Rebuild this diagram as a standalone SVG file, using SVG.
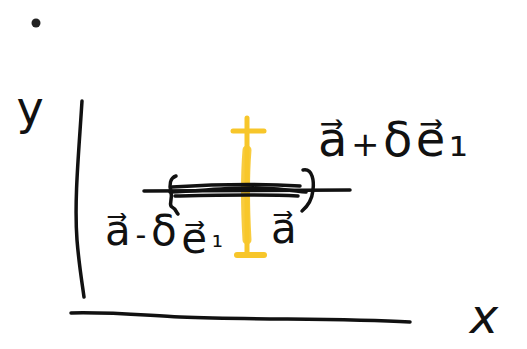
<svg xmlns="http://www.w3.org/2000/svg" width="527" height="349" viewBox="0 0 527 349">
<style>
.ink{fill:none;stroke:#111;stroke-width:3.5;stroke-linecap:round;stroke-linejoin:round}
.yel{fill:none;stroke:#f7c62a;stroke-linecap:round;stroke-linejoin:round}
.lbl{font-family:"DejaVu Sans","Liberation Sans",sans-serif;fill:#111}
</style>
<rect width="527" height="349" fill="#fff"/>
<g id="dot"><circle cx="36" cy="23" r="4.5" fill="#222"/></g>
<g id="axes">
<path class="ink" d="M82,101 C79,150 74,200 77,240 C79,265 82,282 84,297"/>
<path class="ink" d="M71,313 C110,312 140,315 180,317 C260,320 340,318 410,322"/>
</g>
<g id="yellow-bar">
<path class="yel" stroke-width="5" d="M247,118 L247,254"/>
<path class="yel" stroke-width="9" d="M247,150 C245,175 245,205 247,240" stroke-opacity="0.9"/>
<path class="yel" stroke-width="5" d="M233,131 L264,131"/>
<path class="yel" stroke-width="6" d="M237,255 L264,255"/>
</g>
<g id="interval">
<path class="ink" d="M144,191 L350,190"/>
<path class="ink" stroke-width="6" d="M170,192 C210,190 240,187 260,188 C285,189 295,191 306,192"/>
<path class="ink" d="M172,187 C205,185 250,183 300,186"/>
<path class="ink" d="M175,196 C220,195 260,194 298,196"/>
<path class="ink" d="M176,176 C170,178 169,185 171,192 C173,200 168,205 172,207 C176,209 176,212 178,214"/>
<path class="ink" d="M303,170 C313,168 314,182 313,190 C312,200 308,206 302,211"/>
</g>
<g id="labels">
<text class="lbl" x="30" y="124" font-size="46" text-anchor="middle">y</text>
<text class="lbl" x="484" y="333" font-size="48" font-style="italic" text-anchor="middle">x</text>
<text class="lbl" x="318" y="156" font-size="48" textLength="150" lengthAdjust="spacing">a⃗<tspan font-size="34">+</tspan>δe⃗₁</text>
<text class="lbl" x="105" y="245" font-size="42" textLength="118" lengthAdjust="spacing">a⃗<tspan font-size="30">-</tspan>δ<tspan dy="8">e⃗</tspan><tspan dy="-6" font-size="28">₁</tspan></text>
<text class="lbl" x="271" y="243" font-size="42">a⃗</text>
</g>
</svg>
